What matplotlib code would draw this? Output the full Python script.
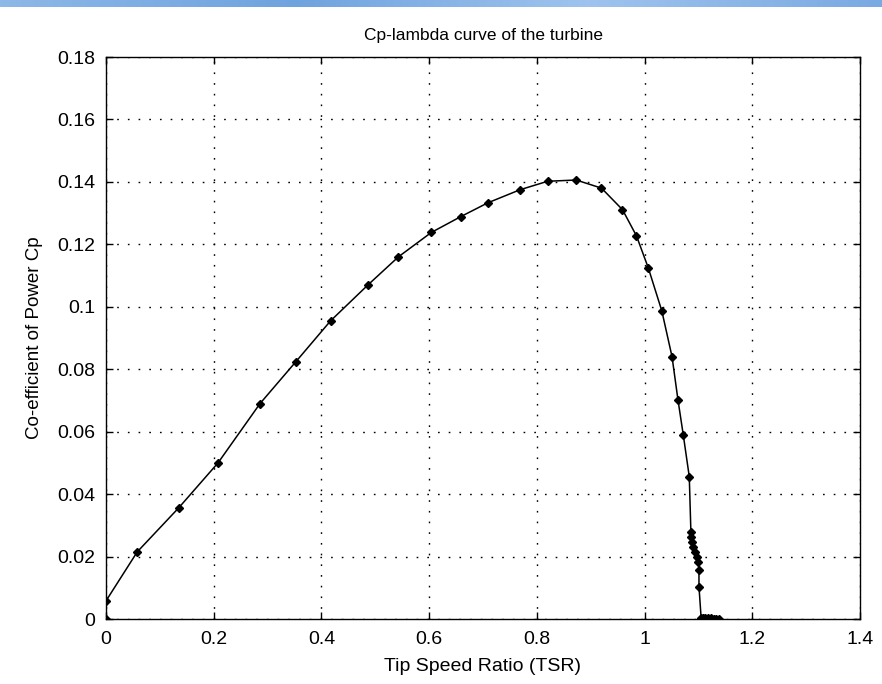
import numpy as np
import matplotlib
matplotlib.use("Agg")
import matplotlib.pyplot as plt
from matplotlib.ticker import FuncFormatter

plt.rcParams['font.family'] = ['Liberation Sans', 'DejaVu Sans']

# Tip speed ratio samples and the matching power coefficient
tsr = [0.0, 0.0, 0.058, 0.135, 0.208, 0.286, 0.352, 0.417, 0.487, 0.543,
       0.604, 0.659, 0.709, 0.769, 0.820, 0.873, 0.920, 0.959, 0.985, 1.007,
       1.032, 1.051, 1.062, 1.072, 1.083, 1.086, 1.087, 1.088, 1.090, 1.0935,
       1.097, 1.100, 1.101, 1.101, 1.105, 1.109, 1.113, 1.118, 1.123, 1.128,
       1.133, 1.138]
cp = [0.0, 0.0058, 0.0215, 0.0356, 0.0500, 0.0690, 0.0823, 0.0955, 0.1071, 0.1160,
      0.1238, 0.1289, 0.1333, 0.1375, 0.1402, 0.1406, 0.1380, 0.1311, 0.1227, 0.1124,
      0.0987, 0.0840, 0.0702, 0.0588, 0.0456, 0.0280, 0.0264, 0.0248, 0.0232, 0.0216,
      0.0200, 0.0184, 0.0157, 0.0104, 0.0004, 0.0003, 0.0003, 0.0002, 0.0002, 0.0001,
      0.0001, 0.0]

x_ticks = [0, 0.2, 0.4, 0.6, 0.8, 1.0, 1.2, 1.4]
y_ticks = [0, 0.02, 0.04, 0.06, 0.08, 0.10, 0.12, 0.14, 0.16, 0.18]

W, H = 882, 684
fig = plt.figure(figsize=(W / 100, H / 100), dpi=100)
fig.patch.set_facecolor('white')

# thin blue strip across the top edge
band = fig.add_axes([0, 1 - 7 / H, 1, 7 / H])
grad = np.linspace(0, 1, 256)[None, :]
band.imshow(grad, aspect='auto', cmap=matplotlib.colors.LinearSegmentedColormap.from_list(
    'strip', ['#8db8e8', '#6fa3df', '#9fc3ee', '#7aaae2']), extent=[0, 1, 0, 1])
band.axis('off')

ax = fig.add_axes([106 / W, (H - 619) / H, (860 - 106) / W, (619 - 57) / H])
ax.plot(tsr, cp, '-', color='black', lw=1.1, marker='D', ms=4.5,
        mfc='black', mec='black', zorder=3)

ax.set_xlim(0, 1.4)
ax.set_ylim(0, 0.18)
ax.set_xticks(x_ticks)
ax.set_yticks(y_ticks)
fmt = FuncFormatter(lambda v, p: '%g' % round(v, 4))
ax.xaxis.set_major_formatter(fmt)
ax.yaxis.set_major_formatter(fmt)

ax.grid(True, color='black', linestyle=(0, (1.2, 6.5)), lw=1.0)
ax.tick_params(direction='in', length=5, width=1, top=True, right=True,
               labelsize=14, colors='black')
ax.tick_params(axis='x', pad=9)
ax.tick_params(axis='y', pad=8)
for s in ax.spines.values():
    s.set_linewidth(1.0)
    s.set_color('black')

ax.set_title('Cp-lambda curve of the turbine', fontsize=12.5, pad=12)
ax.set_xlabel('Tip Speed Ratio (TSR)', fontsize=14, labelpad=7)
ax.set_ylabel('Co-efficient of Power Cp', fontsize=13.5, labelpad=10)

fig.savefig('out.png', dpi=100)
